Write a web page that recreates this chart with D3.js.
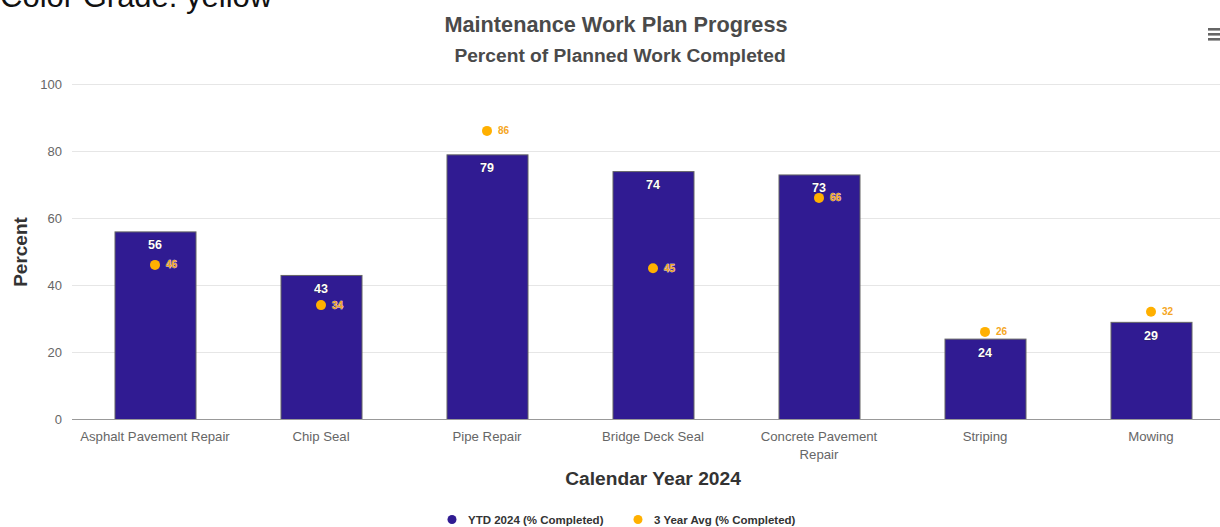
<!DOCTYPE html>
<html>
<head>
<meta charset="utf-8">
<script src="https://cdn.jsdelivr.net/npm/d3@7"></script>
<style>
  html, body { margin: 0; padding: 0; background: #fff; }
  svg { display: block; font-family: "Liberation Sans", Arial, sans-serif; }
</style>
</head>
<body>
<svg id="chart" width="1220" height="527"></svg>
<script>
// Work categories and the two series shown per category
const categories = [
  "Asphalt Pavement Repair", "Chip Seal", "Pipe Repair", "Bridge Deck Seal",
  "Concrete Pavement Repair", "Striping", "Mowing"
];
const ytd2024 = [56, 43, 79, 74, 73, 24, 29];
const avg3yr = [46, 34, 86, 45, 66, 26, 32];
const yTicks = [0, 20, 40, 60, 80, 100];
const seriesNames = ["YTD 2024 (% Completed)", "3 Year Avg (% Completed)"];

const barColor = "#301b92";
const dotColor = "#ffb000";

const svg = d3.select("#chart");
const plot = { left: 72, right: 1234, top: 84, bottom: 419 };

const x = d3.scaleBand().domain(categories).range([plot.left, plot.right]).paddingInner(0.512).paddingOuter(0.256);
const y = d3.scaleLinear().domain([0, 100]).range([plot.bottom, plot.top]);

// Header text above the chart
svg.append("text").attr("x", 0).attr("y", 7)
  .attr("font-size", 31).attr("fill", "#111").text("Color Grade: yellow");

svg.append("text").attr("x", 616).attr("y", 32).attr("text-anchor", "middle")
  .attr("font-size", 21.7).attr("font-weight", "bold").attr("fill", "#4a4a4a")
  .text("Maintenance Work Plan Progress");
svg.append("text").attr("x", 620).attr("y", 62).attr("text-anchor", "middle")
  .attr("font-size", 19.2).attr("font-weight", "bold").attr("fill", "#4a4a4a")
  .text("Percent of Planned Work Completed");

// Menu icon
const menu = svg.append("g").attr("transform", "translate(1208,28)");
[0, 5, 10].forEach(dy => menu.append("rect").attr("x", 0).attr("y", dy).attr("width", 14).attr("height", 2.6).attr("fill", "#666"));

// Grid lines
svg.append("g").selectAll("line").data(yTicks.filter(t => t > 0)).join("line")
  .attr("x1", plot.left).attr("x2", 1220)
  .attr("y1", d => y(d) + 0.5).attr("y2", d => y(d) + 0.5)
  .attr("stroke", "#e6e6e6").attr("stroke-width", 1);

// Y axis labels
const yAxis = svg.append("g").attr("transform", `translate(${plot.left},0)`)
  .call(d3.axisLeft(y).tickValues(yTicks).tickSize(0).tickPadding(10));
yAxis.select(".domain").remove();
yAxis.selectAll("text").attr("font-size", 13).attr("fill", "#666").attr("font-family", "Liberation Sans, Arial, sans-serif");

svg.append("text").attr("transform", `translate(27,252) rotate(-90)`)
  .attr("text-anchor", "middle").attr("font-size", 19).attr("font-weight", "bold").attr("fill", "#333")
  .text("Percent");

// Bars
svg.append("g").selectAll("rect").data(categories).join("rect")
  .attr("x", d => x(d) + 0.5)
  .attr("y", (d, i) => y(ytd2024[i]) + 0.5)
  .attr("width", x.bandwidth())
  .attr("height", (d, i) => y(0) - y(ytd2024[i]))
  .attr("fill", barColor).attr("stroke", "#666").attr("stroke-width", 1);

// Bar value labels
svg.append("g").selectAll("text").data(categories).join("text")
  .attr("x", d => x(d) + x.bandwidth() / 2)
  .attr("y", (d, i) => y(ytd2024[i]) + 18)
  .attr("text-anchor", "middle").attr("font-size", 12.5).attr("font-weight", "bold")
  .attr("fill", "#fff").attr("stroke", "#222").attr("stroke-width", 0.4).attr("paint-order", "stroke")
  .text((d, i) => ytd2024[i]);

// X axis baseline
svg.append("line").attr("x1", plot.left).attr("x2", 1220)
  .attr("y1", plot.bottom + 0.5).attr("y2", plot.bottom + 0.5)
  .attr("stroke", "#999").attr("stroke-width", 1.2);

// Category labels, wrapped when wider than a band
const xAxis = svg.append("g");
categories.forEach(c => {
  const cx = x(c) + x.bandwidth() / 2;
  const lines = c === "Concrete Pavement Repair" ? ["Concrete Pavement", "Repair"] : [c];
  lines.forEach((l, k) => {
    xAxis.append("text").attr("x", cx).attr("y", plot.bottom + 22 + k * 18)
      .attr("text-anchor", "middle").attr("font-size", 13.2).attr("fill", "#666").text(l);
  });
});

svg.append("text").attr("x", 653).attr("y", 485).attr("text-anchor", "middle")
  .attr("font-size", 19.2).attr("font-weight", "bold").attr("fill", "#333")
  .text("Calendar Year 2024");

// 3-year average points
svg.append("g").selectAll("circle").data(categories).join("circle")
  .attr("cx", d => x(d) + x.bandwidth() / 2)
  .attr("cy", (d, i) => y(avg3yr[i]))
  .attr("r", 5).attr("fill", dotColor);

svg.append("g").selectAll("text").data(categories).join("text")
  .attr("x", d => x(d) + x.bandwidth() / 2 + 11)
  .attr("y", (d, i) => y(avg3yr[i]) + 3.5)
  .attr("font-size", 10).attr("font-weight", "bold")
  .attr("fill", "#f5a623").attr("stroke", "#fff").attr("stroke-width", 0.5).attr("paint-order", "stroke")
  .text((d, i) => avg3yr[i]);

// Legend
const legend = svg.append("g");
const legendItems = [
  { name: seriesNames[0], color: barColor, x: 452 },
  { name: seriesNames[1], color: dotColor, x: 638 }
];
legendItems.forEach(it => {
  legend.append("circle").attr("cx", it.x).attr("cy", 519.5).attr("r", 4.5).attr("fill", it.color);
  legend.append("text").attr("x", it.x + 16).attr("y", 524)
    .attr("font-size", 11.5).attr("font-weight", "bold").attr("fill", "#333").text(it.name);
});
</script>
</body>
</html>
